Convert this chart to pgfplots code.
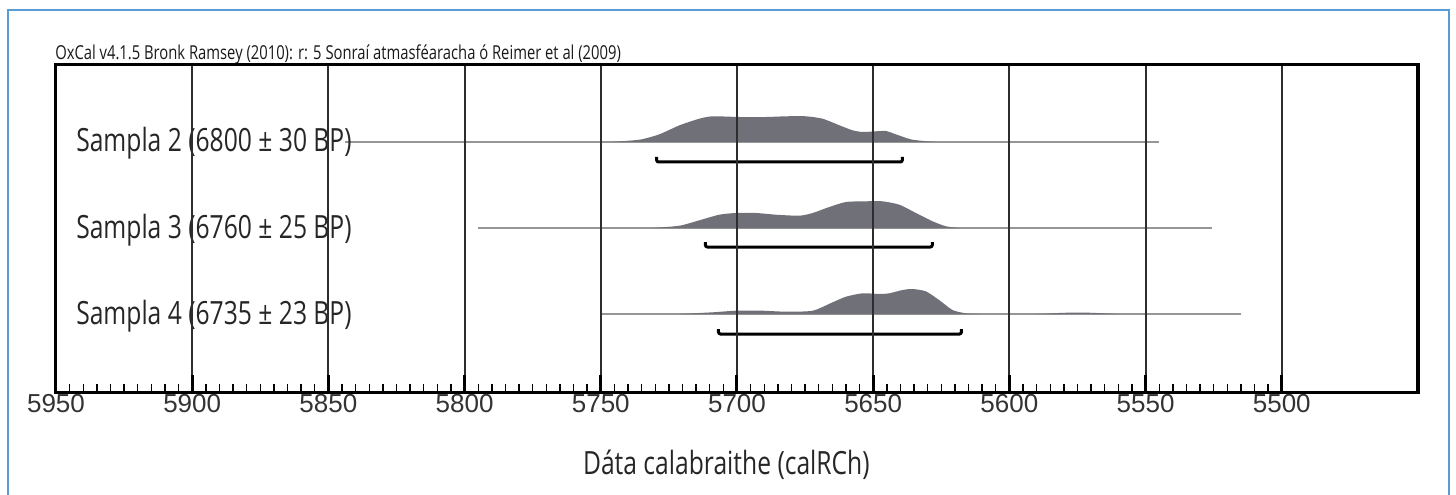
\documentclass[border=0pt]{standalone}
\usepackage{fontspec}
\usepackage{pgfplots}
\pgfplotsset{compat=1.18}
\newfontfamily\condfont{Open Sans}[FakeStretch=0.77]
\newfontfamily\tickfont{Liberation Sans}
\definecolor{probfill}{RGB}{112,112,120}
\definecolor{frameblue}{RGB}{91,155,213}
\definecolor{gridgray}{RGB}{45,45,45}
\definecolor{linegray}{RGB}{150,150,150}

\begin{document}
\begin{tikzpicture}
\useasboundingbox (-28pt,-51pt) rectangle (700pt,196pt);
\draw[frameblue, line width=1pt] (-24pt,-52pt) -- (-24pt,191pt) -- (696.5pt,191pt) -- (696.5pt,-52pt);
\begin{axis}[
  at={(0,0)}, anchor=south west,
  scale only axis,
  width=681pt, height=163.5pt,
  x dir=reverse,
  xmin=5450, xmax=5950,
  ymin=0, ymax=327,
  axis line style={line width=1.5pt},
  xtick={5500,5550,...,5950},
  ytick=\empty,
  minor x tick num=9,
  xtick pos=left,
  tick align=inside,
  major tick length=8.5pt,
  minor tick length=3.8pt,
  major tick style={line width=1.5pt, black},
  minor tick style={line width=0.7pt, black},
  xmajorgrids,
  grid style={gridgray, line width=1pt},
  xticklabel style={font=\tickfont\fontsize{13}{13}\selectfont, text=black!80, inner sep=0pt, yshift=-1pt},
  /pgf/number format/assume math mode=true,
  /pgf/number format/set thousands separator={},
  clip=false,
  axis on top,
]
% likelihood ranges
\addplot[linegray, line width=0.7pt] coordinates {(5844,250) (5545,250)};
\addplot[linegray, line width=0.7pt] coordinates {(5795,164) (5525.6,164)};
\addplot[linegray, line width=0.7pt] coordinates {(5750,78) (5515,78)};

% Sampla 2 posterior
\addplot[fill=probfill, draw=none, smooth, tension=0.4] coordinates {
  (5746.8,250) (5735.8,252.3) (5728.5,257.7) (5721.1,266.7) (5713.8,273.3)
  (5708.9,275.7) (5699.1,275) (5689.3,275) (5682,275.7) (5674.7,275.7)
  (5668.6,273.3) (5662.4,266.7) (5657.6,261.7) (5653.9,260) (5649,260.7)
  (5645.3,261) (5641.7,257.7) (5635.6,252.3) (5627,250)
} -- cycle;
% Sampla 3
\addplot[fill=probfill, draw=none, smooth, tension=0.4] coordinates {
  (5730.9,164) (5721.1,166.3) (5713.8,171.7) (5706.5,177.3) (5700.4,179)
  (5693,179) (5685.7,177.3) (5677.1,176.3) (5672.2,179) (5666.1,185)
  (5660,190) (5652.7,190.7) (5646.6,190.7) (5640.4,187.3) (5634.3,179)
  (5628.2,170.7) (5623.3,165.7) (5618.4,164)
} -- cycle;
% Sampla 4
\addplot[fill=probfill, draw=none, smooth, tension=0.4] coordinates {
  (5721.1,78) (5708.9,79.7) (5700.4,81.3) (5690.6,81.3) (5682,80.3)
  (5672.2,81.3) (5664.9,89.7) (5660,95.3) (5653.9,98.7) (5647.7,98)
  (5644.1,98.7) (5639.2,102) (5635.6,103) (5630.7,100.7) (5625.8,92)
  (5620.9,82) (5616,78.7) (5611.1,78)
} -- cycle;
\addplot[fill=probfill, draw=none, smooth] coordinates {
  (5590,78) (5580,79.2) (5574,79.5) (5568,79) (5560,78)
} -- cycle;

% 95.4% ranges
\addplot[black, line width=1.5pt, rounded corners=1pt] coordinates {(5729.5,235) (5729.5,230) (5639.3,230) (5639.3,235)};
\addplot[black, line width=1.5pt, rounded corners=1pt] coordinates {(5711.6,150) (5711.6,145) (5628.3,145) (5628.3,150)};
\addplot[black, line width=1.5pt, rounded corners=1pt] coordinates {(5706.8,63) (5706.8,58) (5617.6,58) (5617.6,63)};

\node[anchor=base west, inner sep=0pt, font=\condfont\fontsize{16}{16}\selectfont, text=black!85] at (axis cs:5942.7,240) {Sampla 2 (6800 ± 30 BP)};
\node[anchor=base west, inner sep=0pt, font=\condfont\fontsize{16}{16}\selectfont, text=black!85] at (axis cs:5942.7,154) {Sampla 3 (6760 ± 25 BP)};
\node[anchor=base west, inner sep=0pt, font=\condfont\fontsize{16}{16}\selectfont, text=black!85] at (axis cs:5942.7,68) {Sampla 4 (6735 ± 23 BP)};

\node[anchor=base west, inner sep=0pt, font=\condfont\fontsize{9.6}{9.6}\selectfont, text=black!90] at (axis cs:5950.4,332) {OxCal v4.1.5 Bronk Ramsey (2010): r: 5 Sonraí atmasféaracha ó Reimer et al (2009)};
\node[font=\condfont\fontsize{16}{16}\selectfont, text=black!85] at (axis cs:5703.9,-73) {Dáta calabraithe (calRCh)};
\end{axis}
\end{tikzpicture}
\end{document}
